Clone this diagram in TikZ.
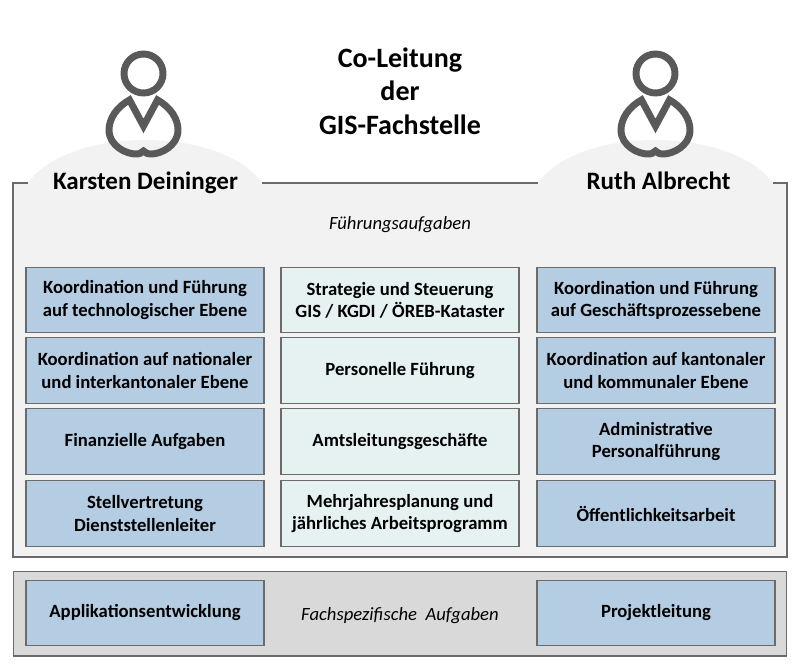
\documentclass[tikz,border=0pt]{standalone}
\usepackage{fontspec}
\setmainfont{Carlito}
\definecolor{panelA}{HTML}{F2F2F2}
\definecolor{panelB}{HTML}{D9D9D9}
\definecolor{lineG}{HTML}{6B6B6B}
\definecolor{blueB}{HTML}{B4CDE3}
\definecolor{tealB}{HTML}{E6F1F2}
\definecolor{iconG}{HTML}{595959}
\tikzset{
  box/.style={draw=lineG,line width=0.9pt,minimum width=178.5pt,minimum height=49pt,inner sep=0pt,align=center,font=\fontsize{14}{16.6}\selectfont\bfseries,text=black},
  bluebox/.style={box,fill=blueB},
  tealbox/.style={box,fill=tealB},
  heading/.style={inner sep=0pt,align=center,font=\fontsize{21}{25}\selectfont\bfseries,text=black},
  person/.style={inner sep=0pt,anchor=base,font=\fontsize{18.8}{22}\selectfont\bfseries,text=black},
  caption/.style={inner sep=0pt,anchor=base,font=\fontsize{14}{16}\selectfont\itshape,text=black},
  icon/.style={draw=iconG,line width=5.2pt,line join=miter,miter limit=2.5},
  person icon/.pic={
    \draw[icon] (0,-73.5) circle (19.5);
    \draw[icon] (-14,-47) .. controls (-27,-40) and (-34.5,-28) .. (-34.5,-17)
      .. controls (-34.5,-1) and (-17,7) .. (-8,7)
      .. controls (-4,7) and (-2,6) .. (0,4)
      .. controls (2,6) and (4,7) .. (8,7)
      .. controls (17,7) and (34.5,-1) .. (34.5,-17)
      .. controls (34.5,-28) and (27,-40) .. (14,-47)
      -- (0,-21) -- cycle;
  }
}
\begin{document}
\begin{tikzpicture}[x=0.75pt,y=-0.75pt]
\useasboundingbox (0,0) rectangle (800,668);
% main panel with humps
\fill[panelA] (13,183) -- (28,183) .. controls (45,158) and (90,140) .. (145,140)
  .. controls (200,140) and (245,158) .. (262,183) -- (538,183)
  .. controls (555,158) and (600,140) .. (655,140)
  .. controls (710,140) and (755,158) .. (773,183) -- (787,183) -- (787,557) -- (13,557) -- cycle;
\draw[lineG,line width=0.9pt] (28,183) -- (13,183) -- (13,557) -- (787,557) -- (787,183) -- (773,183);
\draw[lineG,line width=0.9pt] (262,183) -- (538,183);
% bottom panel
\node[draw=lineG,line width=1pt,fill=panelB,minimum width=580pt,minimum height=63.5pt,inner sep=0pt] (bottompanel) at (400,613.5) {};
% icons
\pic at (143.5,147) {person icon};
\pic at (655.5,147) {person icon};
% headings
\node[heading] (title) at (400,91) {Co-Leitung\\der\\GIS-Fachstelle};
\node[person] (karsten) at (145.5,189.5) {Karsten Deininger};
\node[person] (ruth) at (658.5,189.5) {Ruth Albrecht};
\node[caption] (fuehrung) at (400,229) {Führungsaufgaben};
\node[caption] (fach) at (400,620) {Fachspezifische\ \ Aufgaben};
% column 1
\node[bluebox] (a1) at (145,300) {Koordination und Führung\\auf technologischer Ebene};
\node[bluebox] (a2) at (145,370.5) {Koordination auf nationaler\\und interkantonaler Ebene};
\node[bluebox] (a3) at (145,441.5) {Finanzielle Aufgaben};
\node[bluebox] (a4) at (145,513.5) {Stellvertretung\\Dienststellenleiter};
% column 2
\node[tealbox] (b1) at (400,300) {Strategie und Steuerung\\GIS / KGDI / ÖREB-Kataster};
\node[tealbox] (b2) at (400,370.5) {Personelle Führung};
\node[tealbox] (b3) at (400,441.5) {Amtsleitungsgeschäfte};
\node[tealbox] (b4) at (400,513.5) {Mehrjahresplanung und\\jährliches Arbeitsprogramm};
% column 3
\node[bluebox] (c1) at (656,300) {Koordination und Führung\\auf Geschäftsprozessebene};
\node[bluebox] (c2) at (656,370.5) {Koordination auf kantonaler\\und kommunaler Ebene};
\node[bluebox] (c3) at (656,441.5) {Administrative\\Personalführung};
\node[bluebox] (c4) at (656,513.5) {Öffentlichkeitsarbeit};
% bottom row
\node[bluebox] (d1) at (145,613) {Applikationsentwicklung};
\node[bluebox] (d3) at (656,613) {Projektleitung};
\end{tikzpicture}
\end{document}
